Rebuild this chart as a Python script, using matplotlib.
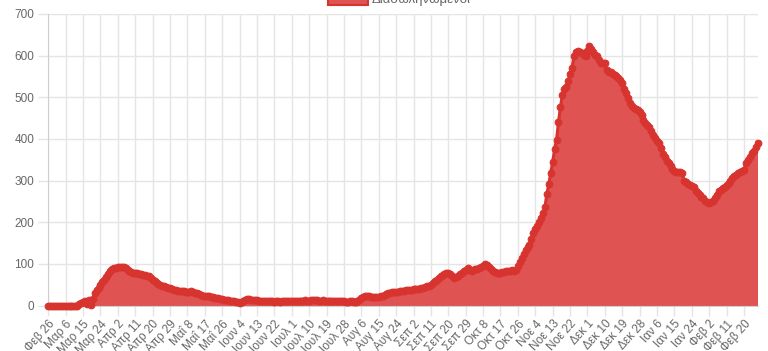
import matplotlib
matplotlib.use("Agg")
import matplotlib.pyplot as plt
import pandas as pd
from matplotlib.patches import Rectangle

start_date = "2020-02-26"
greek_months = ["Ιαν", "Φεβ", "Μαρ", "Απρ", "Μαΐ", "Ιουν", "Ιουλ", "Αυγ", "Σεπ", "Οκτ", "Νοε", "Δεκ"]
series_label = "Διασωληνωμένοι"

feb_2020 = [0, 0, 0, 0]
mar_2020 = [0, 0, 0, 0, 0, 0, 0, 0, 0, 0, 0, 0, 3, 5, 8, 10, 4, 13, 2, 15,
            30, 37, 43, 50, 57, 62, 68, 75, 82, 87, 90]
apr_2020 = [91, 93, 93, 92, 92, 89, 86, 82, 80, 79, 79, 78, 76, 75, 74, 73, 72, 70, 66, 62,
            58, 55, 52, 50, 47, 46, 44, 43, 41, 39]
may_2020 = [38, 37, 36, 35, 35, 34, 33, 33, 32, 34, 33, 31, 29, 27, 25, 24, 23, 22, 22, 21,
            20, 19, 18, 17, 16, 15, 14, 14, 13, 12, 11]
jun_2020 = [10, 9, 8, 6, 9, 12, 14, 15, 15, 14, 14, 13, 13, 12, 12, 11, 11, 10, 10, 11,
            10, 9, 10, 10, 9, 10, 10, 11, 10, 10]
jul_2020 = [11, 10, 11, 12, 12, 11, 12, 13, 12, 12, 13, 14, 14, 13, 12, 12, 13, 12, 11, 11,
            10, 10, 11, 12, 12, 11, 10, 10, 9, 9, 10]
aug_2020 = [10, 9, 9, 11, 14, 17, 20, 23, 24, 22, 21, 20, 20, 21, 21, 22, 24, 26, 28, 30,
            31, 32, 32, 33, 33, 34, 35, 36, 37, 37, 38]
sep_2020 = [38, 39, 39, 40, 40, 41, 43, 45, 46, 47, 49, 54, 58, 62, 66, 70, 73, 75, 77, 79,
            75, 70, 66, 68, 71, 75, 79, 82, 85, 91]
oct_2020 = [86, 84, 86, 87, 88, 90, 93, 96, 100, 97, 92, 87, 83, 80, 78, 78, 79, 80, 81, 82,
            83, 84, 85, 84, 86, 95, 105, 115, 124, 133, 140]
nov_2020 = [146, 160, 173, 183, 190, 200, 210, 222, 237, 268, 292, 318, 345, 375, 398, 440,
            476, 505, 520, 525, 540, 556, 570, 598, 608, 610, 608, 606, 602, 598]
dec_2020 = [612, 622, 615, 608, 602, 600, 590, 582, 583, 582, 565, 561, 560, 557, 553, 550,
            546, 541, 534, 520, 510, 498, 487, 478, 474, 472, 470, 465, 457, 445, 438]
jan_2021 = [433, 428, 420, 410, 402, 396, 390, 378, 364, 356, 348, 341, 335, 328, 323, 321,
            321, 320, 318, 300, 296, 292, 289, 287, 284, 276, 270, 265, 261, 257, 252]
feb_2021 = [249, 247, 248, 250, 258, 266, 274, 278, 281, 285, 290, 294, 298, 305, 310, 314,
            317, 320, 323, 326, 342, 350, 357, 366, 372, 380, 390]

values = (feb_2020 + mar_2020 + apr_2020 + may_2020 + jun_2020 + jul_2020 + aug_2020 +
          sep_2020 + oct_2020 + nov_2020 + dec_2020 + jan_2021 + feb_2021)
dates = pd.date_range(start_date, periods=len(values), freq="D")
labels = [f"{greek_months[d.month - 1]} {d.day}" for d in dates]
x = list(range(len(values)))

line_color = "#d8342f"
fill_color = (0.87, 0.29, 0.29, 0.95)
grid_color = "#e5e5e5"
text_color = "#666666"

plt.rcParams["font.family"] = ["Liberation Sans", "DejaVu Sans"]

fig = plt.figure(figsize=(7.68, 3.51), dpi=100)
ax = fig.add_axes([48.3 / 768, 1 - 305.5 / 351, (757.5 - 48.3) / 768, (305.5 - 14) / 351])

ax.fill_between(x, values, 0, color=fill_color, linewidth=0, zorder=2)
ax.plot(x, values, color=line_color, linewidth=2.2, zorder=3,
        marker="o", markersize=4.8, markerfacecolor=line_color,
        markeredgecolor=line_color, markeredgewidth=0.8, clip_on=False)

ax.set_xlim(0, len(values) - 1)
ax.set_ylim(0, 700)
ax.set_yticks(range(0, 701, 100))
tick_pos = x[::9]
ax.set_xticks(tick_pos)
ax.set_xticklabels([labels[i] for i in tick_pos], rotation=48, ha="right",
                   rotation_mode="anchor")

ax.grid(True, color=grid_color, linewidth=1, zorder=0)
ax.set_axisbelow(True)
for s in ["top", "right"]:
    ax.spines[s].set_visible(False)
for s in ["left", "bottom"]:
    ax.spines[s].set_color("#cfcfcf")
ax.tick_params(axis="both", colors=grid_color, labelcolor=text_color, labelsize=8.5,
               length=7, width=1)
ax.tick_params(axis="x", pad=2)
ax.tick_params(axis="y", pad=3)

# legend (partially cut at the top, as in the reference)
fig.patches.append(Rectangle((328 / 768, 1 - 5 / 351), 40 / 768, 12 / 351,
                             transform=fig.transFigure, facecolor=fill_color,
                             edgecolor=line_color, linewidth=1.5))
fig.text(372 / 768, 1 + 1 / 351, series_label, color=text_color, fontsize=9.5,
         ha="left", va="center")

fig.savefig("out.png", dpi=100)
